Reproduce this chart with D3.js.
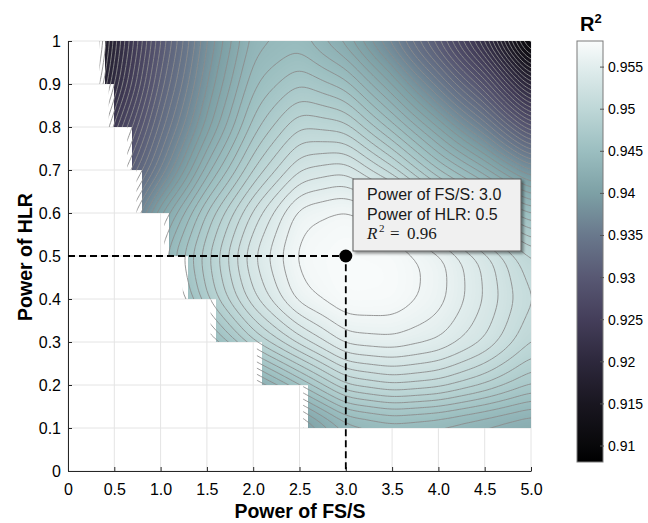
<!DOCTYPE html>
<html>
<head>
<meta charset="utf-8">
<script src="https://cdn.jsdelivr.net/npm/d3@7"></script>
<style>
  body { margin: 0; background: #fff; }
  text { font-family: "Liberation Sans", Arial, sans-serif; }
</style>
</head>
<body>
<div id="chart"></div>
<script>
// grid columns: power of FS/S
const fss = [0, 0.5, 1.0, 1.5, 2.0, 2.5, 3.0, 3.5, 4.0, 4.5, 5.0];
// grid rows: power of HLR, top to bottom
const hlr = [1.0, 0.9, 0.8, 0.7, 0.6, 0.5, 0.4, 0.3, 0.2, 0.1];

// R^2, one row per HLR value
const r2_10 = [0.905, 0.9195, 0.930, 0.938, 0.9435, 0.9445, 0.9415, 0.9365, 0.930, 0.9215, 0.909];
const r2_09 = [0.908, 0.921, 0.9315, 0.939, 0.9448, 0.947, 0.9455, 0.941, 0.9355, 0.929, 0.919];
const r2_08 = [0.912, 0.9245, 0.9335, 0.9405, 0.9465, 0.950, 0.9495, 0.9455, 0.941, 0.936, 0.929];
const r2_07 = [0.916, 0.928, 0.936, 0.9435, 0.949, 0.953, 0.9538, 0.9505, 0.946, 0.9425, 0.938];
const r2_06 = [0.920, 0.932, 0.941, 0.9472, 0.9523, 0.9566, 0.9574, 0.9562, 0.9518, 0.948, 0.945];
const r2_05 = [0.923, 0.935, 0.9435, 0.9488, 0.954, 0.9574, 0.9579, 0.9578, 0.9565, 0.9537, 0.950];
const r2_04 = [0.922, 0.934, 0.942, 0.948, 0.9528, 0.9566, 0.9579, 0.9578, 0.9565, 0.9540, 0.951];
const r2_03 = [0.918, 0.930, 0.938, 0.944, 0.949, 0.9525, 0.9555, 0.9558, 0.9550, 0.9530, 0.950];
const r2_02 = [0.912, 0.923, 0.931, 0.937, 0.942, 0.946, 0.950, 0.951, 0.9505, 0.949, 0.947];
const r2_01 = [0.905, 0.914, 0.922, 0.928, 0.934, 0.939, 0.943, 0.944, 0.9435, 0.9425, 0.9415];

// left edge of the valid region for each band between two HLR rows
const bandLeft = [0.4, 0.5, 0.7, 0.8, 1.1, 1.3, 1.6, 2.1, 2.6];

// ticks
const xTicks = [0, 0.5, 1.0, 1.5, 2.0, 2.5, 3.0, 3.5, 4.0, 4.5, 5.0];
const yTicks = [0, 0.1, 0.2, 0.3, 0.4, 0.5, 0.6, 0.7, 0.8, 0.9, 1];
const cbTicks = [0.91, 0.915, 0.92, 0.925, 0.93, 0.935, 0.94, 0.945, 0.95, 0.955];

// colour map
const cMin = 0.9081, cMax = 0.9581;
const cbStops = [0.9081, 0.91, 0.915, 0.92, 0.925, 0.93, 0.935, 0.94, 0.945, 0.95, 0.955, 0.9581];
const cbColors = ["#000000", "#08080a", "#191620", "#2d283c", "#443e5a", "#585873",
                  "#69788c", "#7da0a5", "#9bbec0", "#bed7d7", "#e1eded", "#fafcfc"];

// the highlighted optimum
const pick = {fss: 3.0, hlr: 0.5, r2: 0.96};

const W = 648, H = 523;
const svg = d3.select("#chart").append("svg")
    .attr("width", W).attr("height", H);

const x = d3.scaleLinear().domain([0, 5]).range([68, 531]);
const y = d3.scaleLinear().domain([0, 1]).range([471, 41]);
const cb = d3.scaleLinear().domain([cMin, cMax]).range([462, 41]);
const color = d3.scaleLinear().domain(cbStops).range(cbColors).clamp(true);

const defs = svg.append("defs");

// grid lines
svg.append("g").selectAll("line").data(xTicks).join("line")
    .attr("x1", d => x(d)).attr("x2", d => x(d))
    .attr("y1", y(0)).attr("y2", y(1))
    .attr("stroke", "#e4e4e4");
svg.append("g").selectAll("line").data(yTicks).join("line")
    .attr("y1", d => y(d)).attr("y2", d => y(d))
    .attr("x1", x(0)).attr("x2", x(5))
    .attr("stroke", "#e4e4e4");

// staircase region of valid cells
const stair = shift => {
    const n = hlr.length;
    const pts = [[bandLeft[0] - shift, hlr[0]], [5, hlr[0]], [5, hlr[n - 1]]];
    for (let k = n - 2; k >= 0; k--) {
        pts.push([bandLeft[k] - shift, hlr[k + 1]]);
        pts.push([bandLeft[k] - shift, hlr[k]]);
    }
    return "M" + pts.map(p => x(p[0]) + "," + y(p[1])).join("L") + "Z";
};
defs.append("clipPath").attr("id", "fillClip").append("path").attr("d", stair(0));
defs.append("clipPath").attr("id", "lineClip").append("path").attr("d", stair(0.06));

// surface resampled on a fine grid (bilinear, then lightly blurred, like shading interp)
const grid = [r2_10, r2_09, r2_08, r2_07, r2_06, r2_05, r2_04, r2_03, r2_02, r2_01];
const NX = fss.length, NY = hlr.length;
const clamp = (v, a, b) => Math.max(a, Math.min(b, v));
const val = (i, j) => grid[clamp(j, 0, NY - 1)][clamp(i, 0, NX - 1)];
const surf = (px, py) => {
    const fx = clamp((px - fss[0]) / (fss[1] - fss[0]), 0, NX - 1);
    const fy = clamp((hlr[0] - py) / (hlr[0] - hlr[1]), 0, NY - 1);
    const i = Math.min(NX - 2, Math.floor(fx)), j = Math.min(NY - 2, Math.floor(fy));
    const tx = fx - i, ty = fy - j;
    const top = val(i, j) * (1 - tx) + val(i + 1, j) * tx;
    const bot = val(i, j + 1) * (1 - tx) + val(i + 1, j + 1) * tx;
    return top * (1 - ty) + bot * ty;
};

const xLo = -0.4, xHi = 5.4, sx = 0.025;
const yHi = 1.15, yLo = -0.05, sy = 0.01;
const NXr = Math.round((xHi - xLo) / sx) + 1, NYr = Math.round((yHi - yLo) / sy) + 1;
const values = new Float64Array(NXr * NYr);
for (let j = 0; j < NYr; j++)
    for (let i = 0; i < NXr; i++)
        values[j * NXr + i] = surf(xLo + i * sx, yHi - j * sy);
if (d3.blur2) d3.blur2({data: values, width: NXr, height: NYr}, 3, 2);

const proj = d3.geoTransform({
    point(px, py) { this.stream.point(x(xLo + (px - 0.5) * sx), y(yHi - (py - 0.5) * sy)); }
});
const path = d3.geoPath(proj);

// filled shading
const fillStep = 0.0002;
const fillLevels = d3.range(Math.round(0.904 / fillStep), Math.round(0.9584 / fillStep)).map(k => k * fillStep);
const fillG = svg.append("g").attr("clip-path", "url(#fillClip)");
fillG.selectAll("path")
    .data(d3.contours().size([NXr, NYr]).thresholds(fillLevels)(values))
    .join("path")
    .attr("d", path)
    .attr("fill", d => color(d.value + fillStep / 2))
    .attr("stroke", "none");

// contour lines every 0.001
const lineLevels = d3.range(900, 959).map(k => k / 1000);
svg.append("g").attr("clip-path", "url(#lineClip)")
    .selectAll("path")
    .data(d3.contours().size([NXr, NYr]).thresholds(lineLevels)(values))
    .join("path")
    .attr("d", path)
    .attr("fill", "none")
    .attr("stroke", "#8c8c8c")
    .attr("stroke-width", 0.9);

// axes
const fmtX = d => d === 0 ? "0" : d.toFixed(1);
const xAxis = svg.append("g")
    .attr("transform", `translate(0,${y(0)})`)
    .call(d3.axisBottom(x).tickValues(xTicks).tickFormat(fmtX)
        .tickSize(-4).tickSizeOuter(0).tickPadding(13));
const yAxis = svg.append("g")
    .attr("transform", `translate(${x(0)},0)`)
    .call(d3.axisLeft(y).tickValues(yTicks).tickFormat(d3.format("~g"))
        .tickSize(-4).tickSizeOuter(0).tickPadding(7));
[xAxis, yAxis].forEach(g => {
    g.attr("font-family", "'Liberation Sans', Arial, sans-serif").attr("font-size", 16);
    g.select(".domain").attr("stroke", "#262626");
    g.selectAll(".tick line").attr("stroke", "#262626");
    g.selectAll(".tick text").attr("fill", "#000");
});

svg.append("text")
    .attr("x", 300).attr("y", 518)
    .attr("text-anchor", "middle")
    .attr("font-weight", "bold").attr("font-size", 19.5)
    .text("Power of FS/S");
svg.append("text")
    .attr("transform", "translate(32,257) rotate(-90)")
    .attr("text-anchor", "middle")
    .attr("font-weight", "bold").attr("font-size", 19.5)
    .text("Power of HLR");

// optimum marker with dashed guides
svg.append("path")
    .attr("d", `M${x(0)},${y(pick.hlr)}H${x(pick.fss)}V${y(0)}`)
    .attr("fill", "none")
    .attr("stroke", "#000")
    .attr("stroke-width", 1.8)
    .attr("stroke-dasharray", "7,4");
svg.append("circle")
    .attr("cx", x(pick.fss)).attr("cy", y(pick.hlr))
    .attr("r", 6.5).attr("fill", "#000");

// data tip
const shadow = defs.append("filter").attr("id", "shadow")
    .attr("x", "-10%").attr("y", "-10%").attr("width", "130%").attr("height", "140%");
shadow.append("feDropShadow")
    .attr("dx", 2).attr("dy", 2).attr("stdDeviation", 1.5)
    .attr("flood-color", "#000").attr("flood-opacity", 0.45);
const tip = svg.append("g");
tip.append("rect")
    .attr("x", 353).attr("y", 179).attr("width", 168).attr("height", 72)
    .attr("fill", "#f0f0f0").attr("stroke", "#5a5a5a").attr("stroke-width", 1)
    .attr("filter", "url(#shadow)");
tip.append("text").attr("x", 367).attr("y", 200).attr("font-size", 16).attr("fill", "#1a1a1a")
    .text(`Power of FS/S: ${pick.fss.toFixed(1)}`);
tip.append("text").attr("x", 367).attr("y", 220).attr("font-size", 16).attr("fill", "#1a1a1a")
    .text(`Power of HLR: ${pick.hlr.toFixed(1)}`);
const r2t = tip.append("text").attr("y", 239).attr("fill", "#1a1a1a")
    .style("font-family", "'Liberation Serif', 'DejaVu Serif', serif");
r2t.append("tspan").attr("x", 367).attr("font-size", 17).attr("font-style", "italic").text("R");
r2t.append("tspan").attr("x", 379).attr("dy", -7).attr("font-size", 11).text("2");
r2t.append("tspan").attr("x", 390).attr("dy", 7).attr("font-size", 17).text("=");
r2t.append("tspan").attr("x", 407).attr("font-size", 17).text(pick.r2.toFixed(2));

// colour bar
const grad = defs.append("linearGradient").attr("id", "cbGrad")
    .attr("x1", 0).attr("y1", 1).attr("x2", 0).attr("y2", 0);
grad.selectAll("stop").data(cbStops).join("stop")
    .attr("offset", d => (d - cMin) / (cMax - cMin))
    .attr("stop-color", d => color(d));
const cbX = 577, cbW = 26;
svg.append("rect")
    .attr("x", cbX).attr("y", cb(cMax)).attr("width", cbW).attr("height", cb(cMin) - cb(cMax))
    .attr("fill", "url(#cbGrad)").attr("stroke", "#7a7a7a").attr("stroke-width", 1);
svg.append("g").selectAll("line").data(cbTicks).join("line")
    .attr("x1", cbX + cbW - 3).attr("x2", cbX + cbW + 1)
    .attr("y1", d => cb(d)).attr("y2", d => cb(d))
    .attr("stroke", "#555");
svg.append("g").selectAll("text").data(cbTicks).join("text")
    .attr("x", cbX + cbW + 5).attr("y", d => cb(d))
    .attr("dy", "0.35em")
    .attr("font-size", 14)
    .text(d => d3.format("~g")(d));
const cbt = svg.append("text").attr("x", 580).attr("y", 31)
    .attr("font-weight", "bold").attr("font-size", 20);
cbt.append("tspan").text("R");
cbt.append("tspan").attr("dy", -8).attr("font-size", 13).text("2");
</script>
</body>
</html>
